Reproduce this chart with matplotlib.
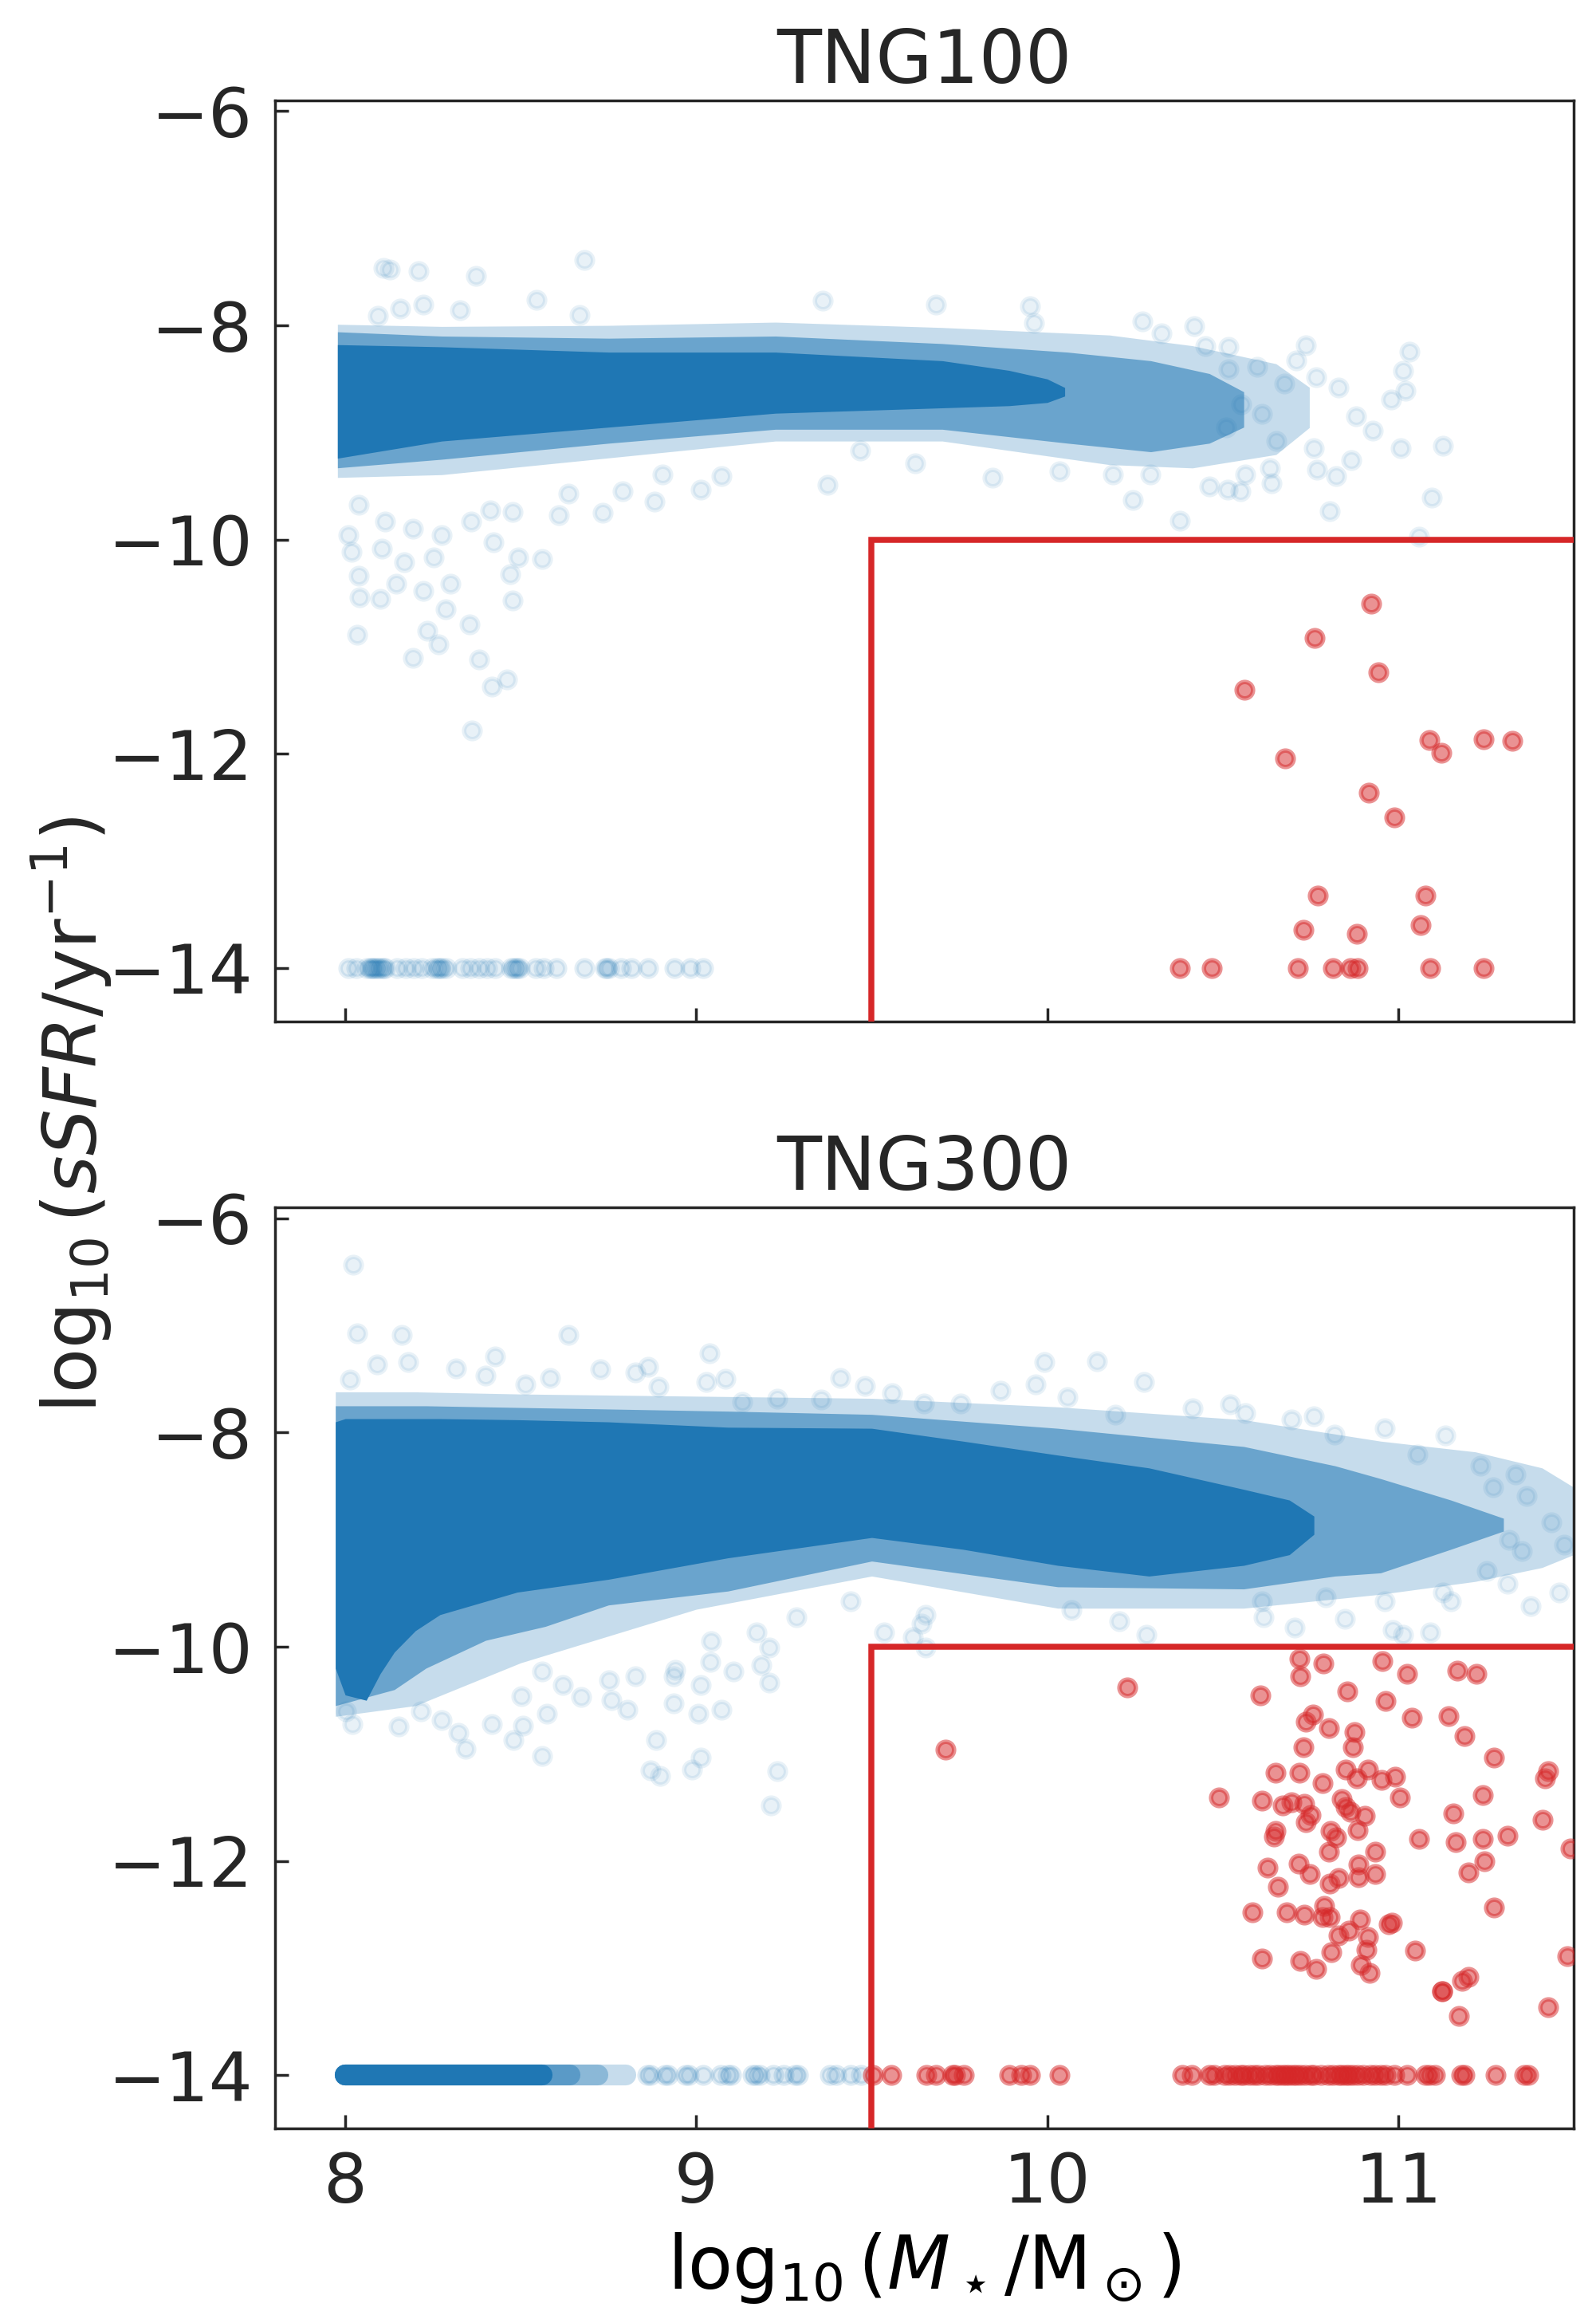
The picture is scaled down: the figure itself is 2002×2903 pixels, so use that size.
import matplotlib
matplotlib.use("Agg")
import matplotlib.pyplot as plt

# ---------------- data ----------------
mass_cut = 9.5      # log10 M* cut
ssfr_cut = -10.0    # log10 sSFR cut
ssfr_floor = -14.0  # value given to galaxies with zero SFR
xlim = (7.8, 11.5)
ylim = (-14.5, -5.9)

# TNG100 - dense blue band, drawn as nested envelopes (x, lower, upper)
t100_core_x = [7.978, 8.275, 8.751, 9.226, 9.701, 9.891, 10.0, 10.05]
t100_core_lo = [-9.240, -9.080, -8.950, -8.820, -8.770, -8.750, -8.720, -8.660]
t100_core_hi = [-8.180, -8.200, -8.250, -8.250, -8.330, -8.420, -8.500, -8.580]
t100_mid_x = [7.978, 8.275, 8.751, 9.226, 9.701, 10.058, 10.295, 10.462, 10.56]
t100_mid_lo = [-9.330, -9.250, -9.100, -8.970, -8.970, -9.100, -9.180, -9.100, -8.950]
t100_mid_hi = [-8.060, -8.100, -8.120, -8.100, -8.170, -8.250, -8.330, -8.450, -8.620]
t100_halo_x = [7.978, 8.275, 8.751, 9.226, 9.701, 10.177, 10.414, 10.652, 10.747]
t100_halo_lo = [-9.420, -9.394, -9.237, -9.080, -9.080, -9.300, -9.331, -9.206, -8.954]
t100_halo_hi = [-7.990, -8.010, -8.000, -7.970, -8.020, -8.090, -8.190, -8.358, -8.578]

# TNG100 - scattered blue galaxies outside the band
t100_blue_m = [8.109, 8.128, 8.209, 8.373, 8.682, 8.546, 8.156, 8.223, 8.328, 8.092,
               8.667, 9.361, 9.682, 9.951, 9.963, 10.272, 10.419, 10.326, 10.737, 11.032,
               11.013, 11.020, 10.980, 11.127, 11.096, 11.060, 10.804, 10.823, 10.768, 10.866,
               11.008, 10.927, 10.880, 10.830, 10.766, 10.709, 10.516, 10.450, 10.599, 10.516,
               10.675, 10.552, 10.611, 10.509, 10.652, 10.759, 10.635, 10.564, 10.640, 10.550,
               10.462, 10.514, 10.378, 10.243, 10.295, 10.188, 10.034, 9.844, 9.625, 9.468,
               9.373, 9.071, 9.012, 8.905, 8.881, 8.791, 8.734, 8.637, 8.608, 8.477,
               8.413, 8.358, 8.275, 8.192, 8.114, 8.038, 8.009, 8.019, 8.104, 8.038,
               8.042, 8.099, 8.145, 8.168, 8.252, 8.223, 8.299, 8.287, 8.423, 8.494,
               8.560, 8.470, 8.477, 8.354, 8.033, 8.233, 8.266, 8.192, 8.382, 8.418,
               8.461, 8.361]
t100_blue_s = [-7.463, -7.479, -7.494, -7.535, -7.391, -7.761, -7.840, -7.808, -7.856, -7.912,
               -7.903, -7.771, -7.808, -7.824, -7.981, -7.965, -8.006, -8.075, -8.185, -8.248,
               -8.427, -8.609, -8.694, -9.121, -9.608, -9.975, -9.733, -9.410, -9.350, -9.259,
               -9.143, -8.986, -8.845, -8.578, -8.484, -8.327, -8.201, -8.195, -8.389, -8.411,
               -8.546, -8.735, -8.829, -8.954, -9.080, -9.143, -9.331, -9.394, -9.473, -9.551,
               -9.504, -9.535, -9.827, -9.630, -9.394, -9.394, -9.363, -9.425, -9.284, -9.168,
               -9.488, -9.410, -9.535, -9.394, -9.645, -9.551, -9.746, -9.567, -9.771, -9.739,
               -9.724, -9.834, -9.959, -9.896, -9.834, -9.677, -9.959, -10.116, -10.085, -10.336,
               -10.540, -10.556, -10.414, -10.210, -10.163, -10.477, -10.414, -10.650, -10.022, -10.163,
               -10.179, -10.320, -10.571, -10.791, -10.885, -10.854, -10.980, -11.105, -11.121, -11.372,
               -11.303, -11.780]

# TNG100 - blue galaxies sitting on the sSFR floor
t100_floor_m = [8.009, 8.032, 8.061, 8.070, 8.075, 8.079, 8.084, 8.090, 8.095, 8.102,
                8.108, 8.114, 8.148, 8.172, 8.195, 8.218, 8.247, 8.260, 8.265, 8.270,
                8.276, 8.288, 8.334, 8.357, 8.381, 8.404, 8.427, 8.473, 8.480, 8.485,
                8.490, 8.497, 8.543, 8.566, 8.601, 8.682, 8.740, 8.746, 8.752, 8.787,
                8.816, 8.862, 8.937, 8.984, 9.019]

# TNG100 - quenched (red) galaxies
t100_red_m = [10.924, 10.761, 10.943, 10.561, 11.090, 11.122, 11.244, 11.326, 10.678, 10.917,
              10.990, 10.770, 11.077, 10.731, 11.065, 10.883,
              10.379, 10.468, 10.715, 10.815, 10.865, 10.885, 11.092, 11.243]
t100_red_s = [-10.60, -10.92, -11.24, -11.40, -11.87, -11.99, -11.86, -11.88, -12.04, -12.36,
              -12.59, -13.32, -13.32, -13.64, -13.60, -13.68,
              -14.0, -14.0, -14.0, -14.0, -14.0, -14.0, -14.0, -14.0]

# TNG300 - dense blue band envelopes
t300_core_x = [7.972, 8.0, 8.06, 8.10, 8.14, 8.20, 8.27, 8.49, 8.75, 9.09, 9.50,
               9.76, 10.03, 10.29, 10.56, 10.69, 10.76]
t300_core_lo = [-10.20, -10.45, -10.50, -10.25, -10.05, -9.85, -9.70, -9.49, -9.37, -9.17, -8.98,
                -9.09, -9.24, -9.34, -9.24, -9.14, -8.95]
t300_core_hi = [-7.90, -7.87, -7.87, -7.87, -7.87, -7.87, -7.87, -7.88, -7.90, -7.95, -7.96,
                -8.08, -8.21, -8.33, -8.53, -8.63, -8.78]
t300_mid_x = [7.972, 8.14, 8.23, 8.40, 8.57, 8.75, 9.09, 9.50, 10.03, 10.56,
              10.82, 10.95, 11.15, 11.30]
t300_mid_lo = [-10.55, -10.40, -10.20, -9.94, -9.81, -9.61, -9.48, -9.20, -9.44, -9.46,
               -9.34, -9.31, -9.09, -8.92]
t300_mid_hi = [-7.75, -7.75, -7.75, -7.76, -7.77, -7.78, -7.80, -7.83, -7.96, -8.13,
               -8.31, -8.43, -8.63, -8.80]
t300_halo_x = [7.972, 8.2, 8.5, 9.0, 9.5, 10.03, 10.56, 10.95, 11.22, 11.41, 11.5]
t300_halo_lo = [-10.65, -10.55, -10.15, -9.65, -9.34, -9.64, -9.64, -9.51, -9.39, -9.26, -9.14]
t300_halo_hi = [-7.62, -7.62, -7.64, -7.66, -7.68, -7.76, -7.88, -8.08, -8.18, -8.33, -8.51]

# TNG300 - scattered blue galaxies outside the band
t300_blue_m = [8.023, 8.033, 8.161, 8.637, 8.427, 8.090, 8.014, 8.180, 8.316, 8.399,
               8.513, 8.584, 8.727, 8.862, 8.827, 9.038, 9.083, 9.029, 8.893, 9.411,
               9.482, 9.559, 9.357, 9.231, 9.131, 9.649, 9.753, 9.867, 9.967, 9.991,
               10.141, 10.276, 10.058, 10.195, 10.414, 10.521, 10.564, 10.695, 10.759, 10.961,
               11.134, 10.818, 11.056, 11.234, 11.334, 11.270, 11.365, 11.436, 11.317, 11.353,
               11.472, 11.460, 11.377, 11.312, 11.253, 11.151, 11.127, 11.091, 11.013, 10.984,
               10.961, 10.849, 10.704, 10.616, 10.794, 10.611, 10.283, 10.205, 10.070, 9.654,
               9.642, 9.535, 9.618, 9.654, 9.440, 9.285, 9.209, 9.171, 9.185, 9.209,
               9.107, 9.043, 9.041, 9.012, 8.941, 8.936, 8.827, 8.751, 9.071, 9.007,
               8.936, 8.803, 8.758, 8.672, 8.886, 9.012, 8.988, 8.869, 8.898, 9.231,
               9.212, 8.560, 8.480, 8.506, 8.575, 8.418, 8.342, 8.323, 8.275, 8.152,
               8.021, 8.002, 8.216, 8.501, 8.620, 8.560]
t300_blue_s = [-6.430, -7.070, -7.086, -7.086, -7.291, -7.365, -7.508, -7.344, -7.398, -7.467,
               -7.549, -7.488, -7.406, -7.385, -7.439, -7.262, -7.496, -7.529, -7.570, -7.488,
               -7.561, -7.631, -7.693, -7.684, -7.713, -7.725, -7.725, -7.611, -7.549, -7.344,
               -7.332, -7.529, -7.672, -7.836, -7.775, -7.734, -7.816, -7.877, -7.848, -7.959,
               -8.029, -8.020, -8.205, -8.307, -8.389, -8.512, -8.594, -8.840, -9.004, -9.107,
               -9.045, -9.496, -9.619, -9.414, -9.291, -9.578, -9.496, -9.865, -9.885, -9.844,
               -9.578, -9.742, -9.824, -9.721, -9.537, -9.578, -9.885, -9.762, -9.660, -9.701,
               -9.783, -9.865, -9.914, -10.008, -9.578, -9.721, -10.008, -9.865, -10.172, -10.336,
               -10.234, -9.947, -10.143, -10.357, -10.213, -10.275, -10.275, -10.316, -10.590, -10.623,
               -10.529, -10.590, -10.500, -10.467, -10.869, -11.033, -11.148, -11.156, -11.209, -11.164,
               -11.484, -11.020, -10.869, -10.734, -10.623, -10.725, -10.951, -10.807, -10.684, -10.746,
               -10.725, -10.602, -10.602, -10.459, -10.357, -10.234]

# TNG300 - blue galaxies on the floor: dense runs (start, end, opacity) + single ones
t300_floor_run_lo = [8.0, 8.0, 8.0, 8.0]
t300_floor_run_hi = [8.56, 8.64, 8.72, 8.80]
t300_floor_run_alpha = [1.0, 0.45, 0.35, 0.25]
t300_floor_m = [8.86, 8.87, 8.91, 8.92, 8.97, 8.98, 9.02, 9.07, 9.09, 9.10, 9.16, 9.17,
                9.18, 9.22, 9.25, 9.28, 9.29, 9.38, 9.40, 9.44, 9.47]

# TNG300 - quenched (red) galaxies
t300_red_m = [10.229, 9.711, 10.718, 10.722, 10.788, 10.956, 11.025, 11.168, 11.223, 10.607,
              10.854, 10.963, 10.758, 10.736, 10.802, 10.875, 11.040, 11.143, 11.190, 10.731,
              10.872, 11.273, 10.650, 10.719, 10.784, 10.850, 10.882, 10.915, 10.953, 10.992,
              11.428, 11.418, 10.489, 10.613, 10.671, 10.696, 10.733, 10.839, 10.850, 10.864,
              10.905, 10.751, 10.736, 11.004, 11.241, 11.157, 11.412, 10.650, 10.646, 10.807,
              10.823, 10.884, 11.059, 11.164, 11.242, 11.311, 11.490, 10.802, 10.934, 10.627,
              10.716, 10.749, 10.886, 11.245, 11.201, 10.831, 10.804, 10.886, 10.934, 10.658,
              10.584, 10.683, 10.733, 10.789, 10.785, 10.806, 10.891, 10.974, 10.983, 11.274,
              10.829, 10.860, 10.915, 10.909, 10.809, 10.612, 10.722, 10.767, 10.894, 10.919,
              11.047, 11.483, 11.182, 11.200, 11.125, 11.125, 11.174, 11.428]
t300_red_s = [-10.378, -10.961, -10.108, -10.276, -10.156, -10.131, -10.256, -10.225, -10.256, -10.452,
              -10.418, -10.503, -10.631, -10.702, -10.759, -10.793, -10.660, -10.648, -10.836, -10.938,
              -10.935, -11.035, -11.177, -11.177, -11.271, -11.146, -11.228, -11.143, -11.242, -11.214,
              -11.163, -11.228, -11.407, -11.436, -11.478, -11.455, -11.464, -11.421, -11.498, -11.541,
              -11.578, -11.569, -11.640, -11.407, -11.385, -11.555, -11.615, -11.717, -11.774, -11.720,
              -11.777, -11.714, -11.794, -11.825, -11.794, -11.763, -11.882, -11.910, -11.910, -12.061,
              -12.024, -12.124, -12.030, -12.001, -12.104, -12.158, -12.215, -12.152, -12.121, -12.243,
              -12.479, -12.479, -12.502, -12.422, -12.522, -12.522, -12.544, -12.593, -12.579, -12.436,
              -12.692, -12.650, -12.712, -12.826, -12.849, -12.911, -12.934, -13.008, -12.968, -13.048,
              -12.840, -12.886, -13.119, -13.085, -13.218, -13.218, -13.446, -13.369]
t300_red_floor_m = [9.503, 9.555, 9.656, 9.683, 9.731, 9.737, 9.762, 9.893, 9.927, 9.952,
                    10.034, 10.384, 10.413, 10.461, 10.475, 10.506, 10.52, 10.535, 10.55, 10.56,
                    10.575, 10.59, 10.60, 10.62, 10.635, 10.65, 10.66, 10.67, 10.68, 10.69,
                    10.70, 10.71, 10.72, 10.735, 10.75, 10.76, 10.78, 10.80, 10.815, 10.83,
                    10.84, 10.85, 10.86, 10.87, 10.885, 10.90, 10.92, 10.935, 10.95, 10.965,
                    10.99, 11.026, 11.077, 11.09, 11.105, 11.18, 11.19, 11.277, 11.36, 11.37]

# ---------------- style ----------------
ink = "#262626"
blue = "#1f77b4"
red = "#d62728"
plt.rcParams["font.family"] = ["DejaVu Sans"]
plt.rcParams["mathtext.fontset"] = "dejavusans"
plt.rcParams["text.color"] = ink
plt.rcParams["axes.edgecolor"] = ink
plt.rcParams["axes.linewidth"] = 1.25
plt.rcParams["xtick.color"] = ink
plt.rcParams["ytick.color"] = ink

S = 55      # marker area
LW = 2.0    # marker edge width
DOT = 9.4   # outer marker diameter in points (for the solid floor runs)

fig = plt.figure(figsize=(10.01, 14.515), dpi=200)
ax1 = fig.add_axes([0.1723, 0.5587, 0.8137, 0.3979])
ax2 = fig.add_axes([0.1723, 0.0805, 0.8137, 0.3978])


def band(ax, xs, lo, hi, alpha):
    ax.fill_between(xs, lo, hi, color=blue, alpha=alpha, linewidth=0)


def finish(ax, title):
    ax.set_xlim(*xlim)
    ax.set_ylim(*ylim)
    ax.set_xticks([8, 9, 10, 11])
    ax.set_yticks([-14, -12, -10, -8, -6])
    ax.tick_params(direction="in", length=6, width=1.25, labelsize=31, pad=10,
                   top=False, right=False)
    ax.set_title(title, fontsize=33, pad=8)
    # selection box for quenched massive galaxies
    ax.plot([mass_cut, mass_cut, xlim[1]], [ylim[0], ssfr_cut, ssfr_cut],
            color=red, lw=2.7, solid_joinstyle="miter", zorder=5)


# TNG100
band(ax1, t100_halo_x, t100_halo_lo, t100_halo_hi, 0.25)
band(ax1, t100_mid_x, t100_mid_lo, t100_mid_hi, 0.55)
band(ax1, t100_core_x, t100_core_lo, t100_core_hi, 1.0)
ax1.scatter(t100_blue_m, t100_blue_s, s=S, color=blue, alpha=0.1, linewidths=LW)
ax1.scatter(t100_floor_m, [ssfr_floor] * len(t100_floor_m), s=S, color=blue,
            alpha=0.12, linewidths=LW)
ax1.scatter(t100_red_m, t100_red_s, s=S, color=red, alpha=0.5, linewidths=LW, zorder=4)
finish(ax1, "TNG100")
ax1.tick_params(labelbottom=False)

# TNG300
band(ax2, t300_halo_x, t300_halo_lo, t300_halo_hi, 0.25)
band(ax2, t300_mid_x, t300_mid_lo, t300_mid_hi, 0.55)
band(ax2, t300_core_x, t300_core_lo, t300_core_hi, 1.0)
ax2.scatter(t300_blue_m, t300_blue_s, s=S, color=blue, alpha=0.1, linewidths=LW)
for lo, hi, a in zip(t300_floor_run_lo, t300_floor_run_hi, t300_floor_run_alpha):
    ax2.plot([lo, hi], [ssfr_floor, ssfr_floor], color=blue, alpha=a, lw=DOT,
             solid_capstyle="round")
ax2.scatter(t300_floor_m, [ssfr_floor] * len(t300_floor_m), s=S, color=blue,
            alpha=0.15, linewidths=LW)
ax2.scatter(t300_red_m, t300_red_s, s=S, color=red, alpha=0.5, linewidths=LW, zorder=4)
ax2.scatter(t300_red_floor_m, [ssfr_floor] * len(t300_red_floor_m), s=S, color=red,
            alpha=0.5, linewidths=LW, zorder=4)
finish(ax2, "TNG300")
ax2.set_xlabel(r"$\log_{10}(M_\star/\mathrm{M}_\odot)$", fontsize=33, labelpad=6)

fig.text(0.045, 0.5186, r"$\log_{10}(sSFR/\mathrm{yr}^{-1})$", rotation=90,
         ha="center", va="center", fontsize=33)

fig.savefig("out.png", dpi=200)
